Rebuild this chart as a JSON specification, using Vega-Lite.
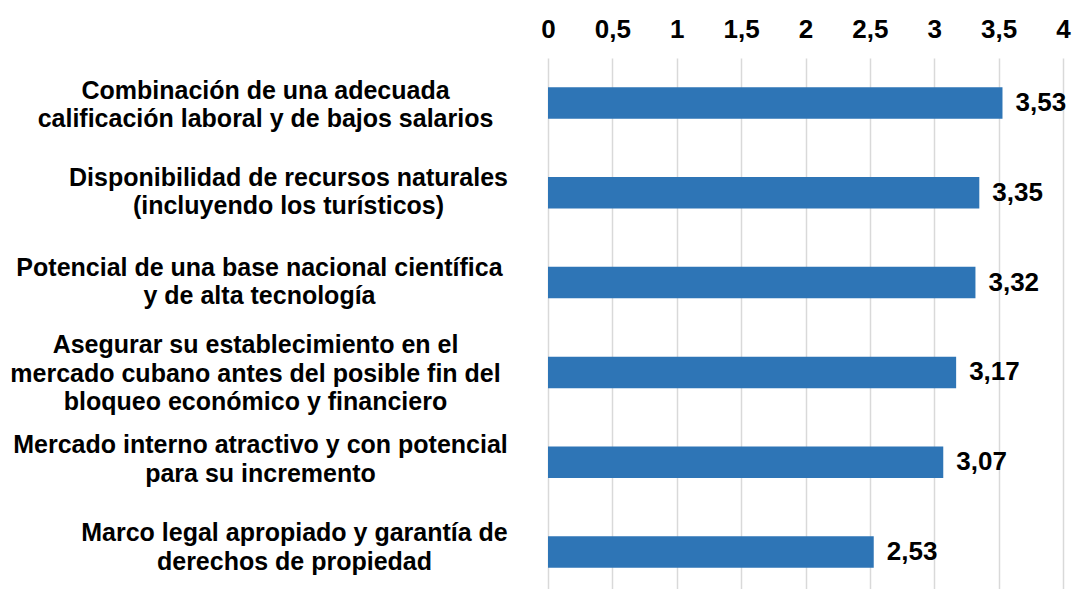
{
  "$schema": "https://vega.github.io/schema/vega-lite/v6.json",
  "autosize": {"type": "none"},
  "padding": {"left": 548, "top": 58, "right": 10, "bottom": 0},
  "width": 515,
  "height": 539,
  "background": "white",
  "config": {
    "view": {"stroke": null},
    "font": "Liberation Sans",
    "locale": {"number": {"decimal": ",", "thousands": ".", "grouping": [3], "currency": ["", " €"]}}
  },
  "data": {
    "values": [
      {"factor": "Combinación de una adecuada|calificación laboral y de bajos salarios", "valor": 3.53},
      {"factor": "Disponibilidad de recursos naturales|(incluyendo los turísticos)", "valor": 3.35},
      {"factor": "Potencial de una base nacional científica|y de alta tecnología", "valor": 3.32},
      {"factor": "Asegurar su establecimiento en el|mercado cubano antes del posible fin del|bloqueo económico y financiero", "valor": 3.17},
      {"factor": "Mercado interno atractivo y con potencial|para su incremento", "valor": 3.07},
      {"factor": "Marco legal apropiado y garantía de|derechos de propiedad", "valor": 2.53}
    ]
  },
  "encoding": {
    "y": {
      "field": "factor",
      "type": "nominal",
      "sort": null,
      "title": null,
      "scale": {"paddingInner": 0.65, "paddingOuter": 0.325},
      "axis": {
        "domain": false,
        "ticks": false,
        "labelExpr": "split(datum.value, '|')",
        "labelAlign": "center",
        "labelPadding": {
          "condition": [
            {"test": "indexof(datum.value, 'Combinación') == 0", "value": 283},
            {"test": "indexof(datum.value, 'Disponibilidad') == 0", "value": 260},
            {"test": "indexof(datum.value, 'Potencial') == 0", "value": 289},
            {"test": "indexof(datum.value, 'Asegurar') == 0", "value": 293},
            {"test": "indexof(datum.value, 'Mercado') == 0", "value": 288}
          ],
          "value": 254
        },
        "labelOffset": {
          "condition": [
            {"test": "indexof(datum.value, 'Asegurar') == 0", "value": -27},
            {"test": "indexof(datum.value, 'Combinación') == 0", "value": -12},
            {"test": "indexof(datum.value, 'Mercado') == 0", "value": -17},
            {"test": "indexof(datum.value, 'Marco') == 0", "value": -19}
          ],
          "value": -15
        },
        "labelFontSize": 25,
        "labelFontWeight": "bold",
        "labelColor": "#000000",
        "labelLineHeight": 28.5,
        "labelLimit": 0
      }
    },
    "x": {
      "field": "valor",
      "type": "quantitative",
      "title": null,
      "scale": {"domain": [0, 4], "nice": false},
      "axis": {
        "orient": "top",
        "values": [0, 0.5, 1, 1.5, 2, 2.5, 3, 3.5, 4],
        "format": "~g",
        "domain": false,
        "ticks": false,
        "labelPadding": 16,
        "labelFontSize": 26,
        "labelFontWeight": "bold",
        "labelColor": "#000000",
        "labelFlush": false,
        "gridColor": "#d9d9d9",
        "gridWidth": 1.5
      }
    }
  },
  "layer": [
    {"mark": {"type": "bar", "color": "#2E75B6"}},
    {
      "mark": {"type": "text", "align": "left", "baseline": "middle", "dx": 13, "fontSize": 26, "fontWeight": "bold", "color": "#000000"},
      "encoding": {"text": {"field": "valor", "type": "quantitative", "format": ".2f"}}
    }
  ]
}
